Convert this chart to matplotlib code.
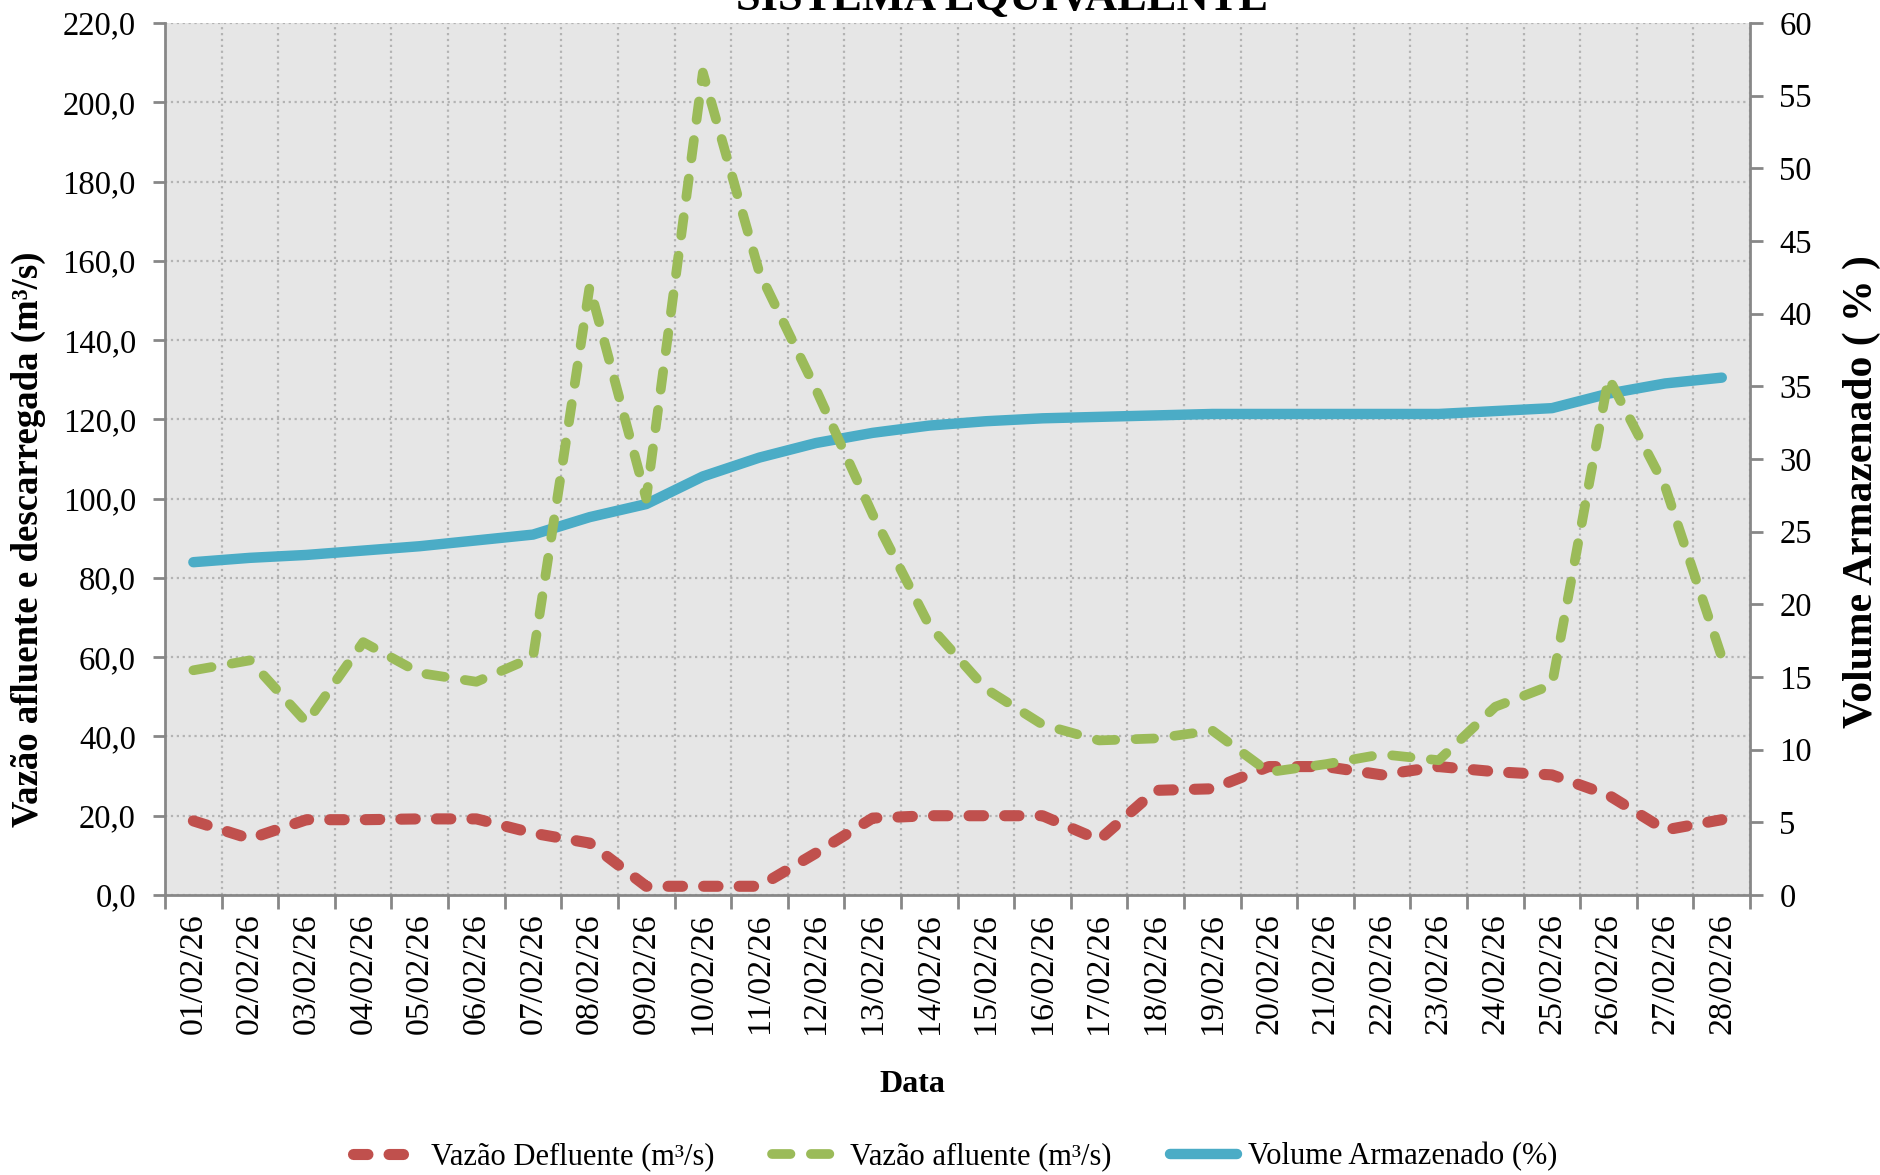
import numpy as np
import matplotlib.pyplot as plt
from matplotlib.ticker import FuncFormatter, MultipleLocator, FixedLocator

plt.rcParams['font.family'] = ['Liberation Serif', 'DejaVu Serif']

# Dados do gráfico
datas = ["01/02/26", "02/02/26", "03/02/26", "04/02/26", "05/02/26", "06/02/26", "07/02/26",
         "08/02/26", "09/02/26", "10/02/26", "11/02/26", "12/02/26", "13/02/26", "14/02/26",
         "15/02/26", "16/02/26", "17/02/26", "18/02/26", "19/02/26", "20/02/26", "21/02/26",
         "22/02/26", "23/02/26", "24/02/26", "25/02/26", "26/02/26", "27/02/26", "28/02/26"]

vazao_defluente = [18.7, 14.2, 19.0, 19.0, 19.2, 19.2, 15.6, 13.1, 2.2, 2.2, 2.2, 10.6, 19.4, 20.0,
                   20.0, 20.0, 13.9, 26.4, 26.8, 32.4, 32.4, 30.3, 32.4, 31.1, 30.3, 25.2, 16.4, 19.0]

vazao_afluente = [56.7, 59.2, 43.5, 63.8, 56.0, 53.8, 60.0, 153.5, 100.0, 207.5, 157.0, 127.5, 96.0, 68.0,
                  52.0, 43.0, 39.0, 39.5, 41.5, 31.0, 33.0, 35.5, 34.0, 47.5, 53.0, 130.5, 103.0, 60.0]

volume = [22.9, 23.2, 23.4, 23.7, 24.0, 24.4, 24.8, 26.0, 26.9, 28.8, 30.1, 31.1, 31.8, 32.3,
          32.6, 32.8, 32.9, 33.0, 33.1, 33.1, 33.1, 33.1, 33.1, 33.3, 33.5, 34.5, 35.2, 35.6]

vermelho = "#C0504D"
verde = "#9BBB59"
azul = "#4BACC6"
cinza = "#878787"

x = np.arange(len(datas))

fig = plt.figure(figsize=(18.8, 11.75), dpi=100)
pos = [0.0878, 0.2383, 0.8431, 0.7421]

# eixo de fundo: cor, grade, eixo esquerdo e datas
ax = fig.add_axes(pos)
ax.set_facecolor("#E6E6E6")
ax.set_xlim(-0.5, len(datas) - 0.5)
ax.set_ylim(0, 220)
ax.yaxis.set_major_locator(MultipleLocator(20))
ax.yaxis.set_major_formatter(FuncFormatter(lambda v, p: f"{v:.1f}".replace(".", ",")))
ax.set_xticks(x)
ax.set_xticklabels(datas, rotation=90, fontsize=24.5)
ax.xaxis.set_minor_locator(FixedLocator(np.arange(-0.5, len(datas), 1.0)))
ax.tick_params(axis="x", which="major", length=0, pad=13)
ax.tick_params(axis="x", which="minor", length=10, width=2, color=cinza)
ax.tick_params(axis="y", length=9, width=2, color=cinza, pad=12, labelsize=23.5)
ax.grid(axis="y", which="major", linestyle=":", color="#B3B3B3", linewidth=1.6)
ax.grid(axis="x", which="minor", linestyle=":", color="#B3B3B3", linewidth=1.6)
for s in ["top", "right"]:
    ax.spines[s].set_visible(False)
for s in ["left", "bottom"]:
    ax.spines[s].set_color(cinza)
    ax.spines[s].set_linewidth(2)

# eixo direito: volume armazenado
ax2 = ax.twinx()
ax2.set_ylim(0, 60)
ax2.yaxis.set_major_locator(MultipleLocator(5))
ax2.tick_params(axis="y", length=9, width=2, color=cinza, pad=12, labelsize=23.5)
for s in ["top", "left", "bottom"]:
    ax2.spines[s].set_visible(False)
ax2.spines["right"].set_color(cinza)
ax2.spines["right"].set_linewidth(2)
l_vol, = ax2.plot(x, volume, color=azul, linewidth=7.5, solid_capstyle="round",
                  solid_joinstyle="round", label="Volume Armazenado (%)")

# eixo de cima: vazões (mesma escala do eixo esquerdo)
ax3 = fig.add_axes(pos, sharex=ax, sharey=ax)
ax3.patch.set_visible(False)
ax3.axis("off")
l_def, = ax3.plot(x, vazao_defluente, color=vermelho, linewidth=8, dash_capstyle="round",
                  dash_joinstyle="round", label="Vazão Defluente (m³/s)")
l_def.set_dashes([1.3, 1.9])
l_afl, = ax3.plot(x, vazao_afluente, color=verde, linewidth=7, dash_capstyle="round",
                  dash_joinstyle="round", label="Vazão afluente (m³/s)")
l_afl.set_dashes([1.9, 2.1])

ax.set_zorder(0)
ax2.set_zorder(1)
ax3.set_zorder(2)

# textos
fig.text(1002 / 1880, 1 - 10 / 1175, "SISTEMA EQUIVALENTE", ha="center", va="baseline",
         fontsize=32, fontweight="bold")
fig.text(28 / 1880, 1 - 539 / 1175, "Vazão afluente e descarregada (m³/s)", rotation=90,
         ha="center", va="center", fontsize=26.5, fontweight="bold")
fig.text(1862 / 1880, 1 - 492 / 1175, "Volume Armazenado ( % )", rotation=90,
         ha="center", va="center", fontsize=30, fontweight="bold")
fig.text(912 / 1880, 1 - 1084 / 1175, "Data", ha="center", va="center",
         fontsize=23, fontweight="bold")

fig.legend([l_def, l_afl, l_vol], [l_def.get_label(), l_afl.get_label(), l_vol.get_label()],
           loc="center", bbox_to_anchor=(955 / 1880, 1 - 1157 / 1175), ncol=3, frameon=False,
           fontsize=22, handlelength=2.2, handletextpad=0.35, columnspacing=1.9, borderpad=0)

fig.savefig("out.png", dpi=100)
